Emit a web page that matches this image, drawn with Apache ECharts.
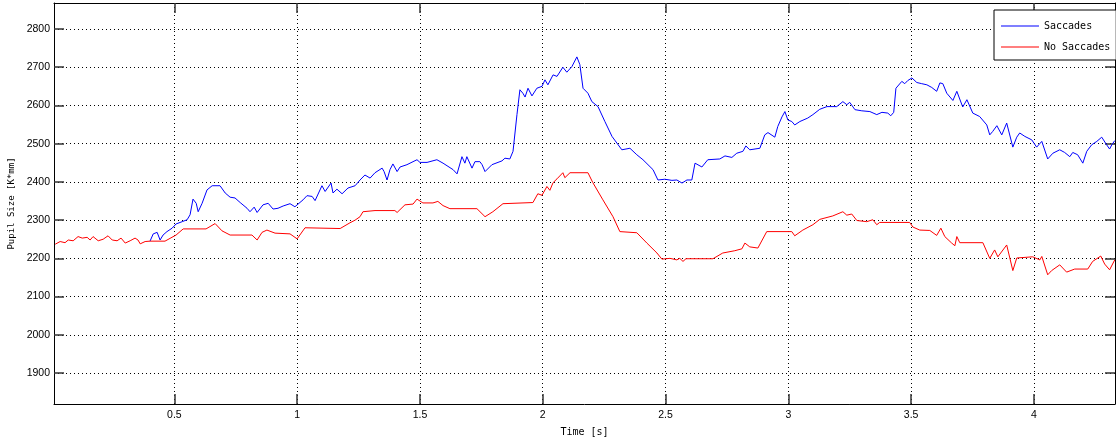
<!DOCTYPE html>
<html>
<head>
<meta charset="utf-8">
<script src="https://cdn.jsdelivr.net/npm/echarts@6/dist/echarts.min.js"></script>
<style>
html,body{margin:0;padding:0;background:#fff;}
#chart{width:1116px;height:442px;}
</style>
</head>
<body>
<div id="chart"></div>
<script>
// Time axis ticks and pupil-size ticks
const xTicks = [0.5, 1, 1.5, 2, 2.5, 3, 3.5, 4];
const yTicks = [1900, 2000, 2100, 2200, 2300, 2400, 2500, 2600, 2700, 2800];

// No Saccades (red)
const noSaccTime = [0.015,0.035,0.055,0.068,0.088,0.108,0.125,0.145,0.157,0.169,
0.190,0.210,0.230,0.247,0.267,0.283,0.300,0.320,0.340,0.352,
0.361,0.381,0.401,0.462,0.507,0.536,0.629,0.666,0.694,0.727,
0.816,0.837,0.857,0.877,0.910,0.971,1.000,1.032,1.175,1.215,
1.236,1.256,1.268,1.317,1.398,1.407,1.439,1.472,1.488,1.512,
1.553,1.573,1.594,1.622,1.732,1.765,1.797,1.838,1.960,1.980,
1.997,2.017,2.029,2.042,2.058,2.082,2.090,2.111,2.184,2.204,
2.245,2.286,2.314,2.383,2.424,2.465,2.485,2.518,2.546,2.558,
2.571,2.583,2.693,2.733,2.782,2.811,2.823,2.843,2.876,2.912,
3.014,3.026,3.059,3.100,3.128,3.181,3.222,3.238,3.258,3.279,
3.319,3.344,3.360,3.372,3.494,3.507,3.535,3.576,3.604,3.621,
3.637,3.665,3.678,3.686,3.698,3.792,3.820,3.840,3.853,3.889,
3.914,3.930,3.995,4.024,4.032,4.056,4.072,4.105,4.133,4.166,
4.219,4.239,4.272,4.288,4.308,4.329];
const noSaccPupil = [2237,2244,2241,2248,2246,2257,2253,2255,2248,2257,
2246,2250,2259,2248,2246,2253,2240,2246,2253,2248,
2238,2244,2245,2245,2261,2277,2277,2291,2272,2261,
2261,2248,2268,2274,2266,2264,2251,2280,2278,2293,
2300,2309,2322,2325,2325,2320,2340,2342,2355,2345,
2345,2349,2338,2330,2330,2309,2322,2343,2346,2369,
2365,2388,2378,2398,2408,2424,2411,2424,2424,2398,
2353,2309,2270,2267,2240,2214,2198,2200,2196,2200,
2192,2199,2199,2214,2220,2225,2240,2230,2227,2270,
2270,2259,2274,2288,2302,2311,2322,2313,2316,2299,
2296,2301,2288,2294,2294,2282,2274,2273,2260,2279,
2257,2240,2233,2257,2241,2241,2200,2222,2204,2235,
2168,2201,2204,2196,2205,2157,2168,2183,2164,2172,
2172,2192,2206,2185,2170,2196];

// Saccades (blue)
const saccTime = [0.401,0.414,0.430,0.442,0.454,0.470,0.491,0.507,0.532,0.552,
0.564,0.576,0.589,0.597,0.613,0.633,0.654,0.686,0.707,0.727,
0.747,0.768,0.796,0.808,0.825,0.837,0.861,0.882,0.902,0.922,
0.943,0.971,0.991,1.024,1.040,1.061,1.073,1.101,1.114,1.138,
1.146,1.162,1.183,1.207,1.236,1.256,1.276,1.297,1.317,1.346,
1.354,1.366,1.378,1.390,1.407,1.419,1.447,1.488,1.500,1.529,
1.569,1.594,1.635,1.651,1.671,1.683,1.691,1.712,1.724,1.744,
1.753,1.765,1.793,1.834,1.846,1.866,1.879,1.895,1.907,1.919,
1.928,1.940,1.956,1.976,1.997,2.009,2.021,2.042,2.058,2.082,
2.098,2.119,2.139,2.151,2.164,2.184,2.200,2.225,2.253,2.282,
2.322,2.355,2.383,2.408,2.449,2.469,2.497,2.526,2.546,2.567,
2.587,2.607,2.620,2.648,2.672,2.721,2.742,2.770,2.790,2.815,
2.827,2.843,2.884,2.904,2.917,2.945,2.957,2.974,2.986,2.998,
3.014,3.026,3.047,3.079,3.100,3.128,3.157,3.197,3.222,3.238,
3.250,3.271,3.299,3.332,3.360,3.381,3.405,3.417,3.429,3.438,
3.462,3.474,3.486,3.503,3.523,3.543,3.564,3.584,3.604,3.617,
3.629,3.645,3.670,3.686,3.710,3.727,3.751,3.779,3.808,3.820,
3.832,3.849,3.869,3.889,3.914,3.930,3.942,3.963,3.991,4.011,
4.032,4.056,4.077,4.105,4.125,4.146,4.158,4.178,4.199,4.215,
4.235,4.256,4.276,4.296,4.308,4.317,4.329];
const saccPupil = [2245,2264,2268,2248,2261,2270,2279,2290,2296,2301,
2314,2355,2344,2322,2344,2379,2390,2390,2371,2360,
2358,2346,2331,2322,2334,2320,2340,2344,2329,2331,
2337,2343,2335,2353,2364,2362,2351,2390,2375,2397,
2371,2381,2369,2384,2390,2405,2418,2410,2424,2436,
2427,2405,2432,2447,2427,2439,2445,2458,2451,2451,
2458,2449,2432,2421,2466,2449,2466,2436,2453,2453,
2445,2427,2445,2455,2462,2460,2480,2576,2641,2632,
2622,2645,2625,2645,2650,2667,2654,2680,2676,2700,
2687,2702,2727,2707,2645,2632,2610,2597,2558,2519,
2484,2488,2471,2458,2432,2405,2407,2404,2405,2397,
2405,2405,2449,2439,2458,2460,2468,2464,2475,2480,
2494,2484,2488,2523,2529,2517,2545,2570,2584,2562,
2558,2549,2558,2567,2576,2590,2597,2597,2610,2602,
2608,2589,2586,2584,2576,2582,2580,2573,2582,2645,
2663,2657,2665,2672,2660,2657,2654,2647,2637,2659,
2657,2632,2613,2637,2596,2615,2580,2571,2549,2523,
2532,2547,2523,2554,2491,2517,2528,2519,2510,2491,
2506,2460,2475,2484,2477,2466,2477,2471,2449,2480,
2497,2506,2517,2497,2486,2497,2508];

const zip = (t, v) => t.map((x, i) => [x, v[i]]);

const X_MIN = 0.01, X_MAX = 4.33, Y_MIN = 1819, Y_MAX = 2868;
const tickFont = 'Liberation Sans';
const monoFont = 'DejaVu Sans Mono';
const gridDot = { show: true, lineStyle: { color: '#000', width: 1, type: [1, 3] } };
const boxLine = { show: true, onZero: false, lineStyle: { color: '#000', width: 1 } };
const tick = (vals) => ({ show: true, inside: true, length: 10, customValues: vals, lineStyle: { color: '#333', width: 1.5 } });
const plain = (v) => String(v);
const lineIcon = 'path://M0,0H38V1H0Z';

const chart = echarts.init(document.getElementById('chart'), null, { renderer: 'canvas' });
chart.setOption({
  animation: false,
  backgroundColor: '#fff',
  grid: { left: 54, right: 1, top: 3, bottom: 38, containLabel: false, outerBoundsMode: 'none' },
  legend: {
    orient: 'vertical',
    left: 994, top: 10,
    padding: [11, 6, 8, 7],
    itemWidth: 38, itemHeight: 12, itemGap: 11,
    borderColor: '#000', borderWidth: 1,
    backgroundColor: '#fff',
    textStyle: { fontFamily: monoFont, fontSize: 10, color: '#000' },
    data: [
      { name: 'Saccades', icon: lineIcon },
      { name: 'No Saccades', icon: lineIcon }
    ]
  },
  xAxis: [
    {
      type: 'value', min: X_MIN, max: X_MAX, position: 'bottom',
      axisLine: boxLine, axisTick: tick(xTicks),
      axisLabel: { customValues: xTicks, formatter: plain, margin: 6, fontFamily: tickFont, fontSize: 10.5, color: '#000' },
      splitLine: gridDot,
      name: 'Time [s]', nameLocation: 'middle', nameGap: 23,
      nameTextStyle: { fontFamily: monoFont, fontSize: 10, color: '#000' }
    },
    {
      type: 'value', min: X_MIN, max: X_MAX, position: 'top',
      axisLine: boxLine, axisTick: tick(xTicks),
      axisLabel: { show: false }, splitLine: { show: false }
    }
  ],
  yAxis: [
    {
      type: 'value', min: Y_MIN, max: Y_MAX, position: 'left',
      axisLine: boxLine, axisTick: tick(yTicks),
      axisLabel: { customValues: yTicks, formatter: plain, margin: 4, fontFamily: tickFont, fontSize: 10.5, color: '#000' },
      splitLine: gridDot,
      name: 'Pupil Size [K*mm]', nameLocation: 'middle', nameGap: 35,
      nameTextStyle: { fontFamily: monoFont, fontSize: 9, color: '#000' }
    },
    {
      type: 'value', min: Y_MIN, max: Y_MAX, position: 'right',
      axisLine: boxLine, axisTick: tick(yTicks),
      axisLabel: { show: false }, splitLine: { show: false }
    }
  ],
  series: [
    {
      name: 'Saccades', type: 'line', xAxisIndex: 0, yAxisIndex: 0,
      data: zip(saccTime, saccPupil),
      symbol: 'none', showSymbol: false, clip: true,
      lineStyle: { color: '#0000ff', width: 1 }, itemStyle: { color: '#0000ff' }
    },
    {
      name: 'No Saccades', type: 'line', xAxisIndex: 0, yAxisIndex: 0,
      data: zip(noSaccTime, noSaccPupil),
      symbol: 'none', showSymbol: false, clip: true,
      lineStyle: { color: '#ff0000', width: 1 }, itemStyle: { color: '#ff0000' }
    }
  ]
});
</script>
</body>
</html>
